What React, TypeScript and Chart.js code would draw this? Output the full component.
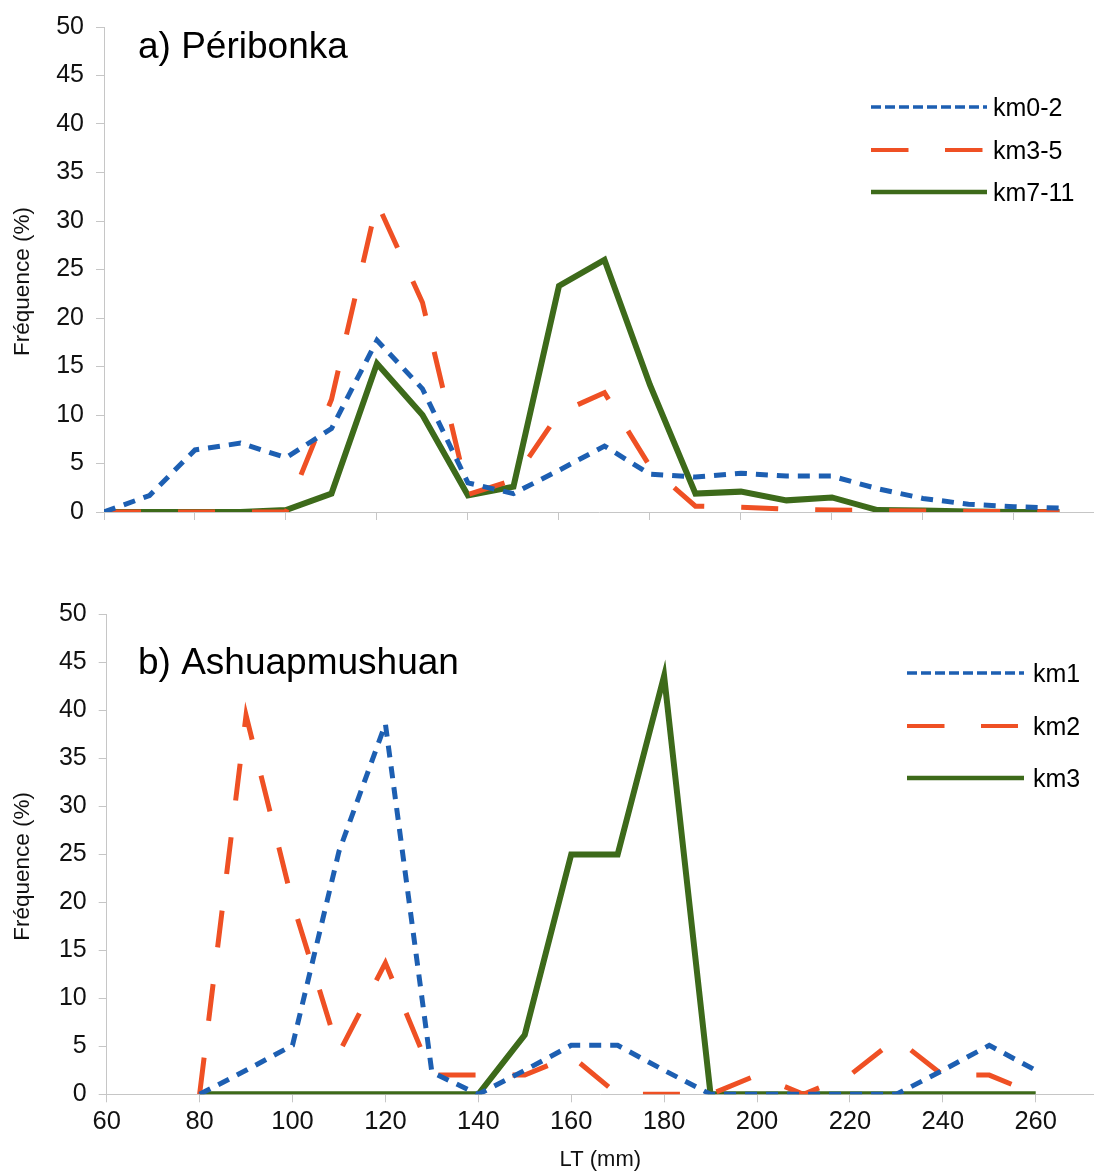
import React, { useEffect, useRef } from "react";
import { Chart, registerables } from "chart.js";

Chart.register(...registerables);

// ---------- data ----------
const topX = [60, 70, 80, 90, 100, 110, 120, 130, 140, 150, 160, 170, 180, 190, 200, 210, 220, 230, 240, 250, 260, 270];
const topKm0_2 = [0, 1.7, 6.4, 7.1, 5.6, 8.6, 17.7, 12.7, 3.0, 1.9, 4.3, 6.8, 3.9, 3.6, 4.0, 3.7, 3.7, 2.4, 1.4, 0.8, 0.55, 0.4];
const topKm3_5 = [0, 0, 0, 0, 0, 11.6, 31.9, 21.6, 1.8, 3.3, 10.2, 12.3, 4.7, 0.6, 0.5, 0.3, 0.2, 0.15, 0.1, 0.05, 0.05, 0];
const topKm7_11 = [0, 0, 0, 0, 0.2, 1.9, 15.3, 10.0, 1.7, 2.6, 23.3, 26.0, 13.1, 1.9, 2.1, 1.2, 1.5, 0.2, 0.15, 0.05, 0, 0];

const botX = [80, 90, 100, 110, 120, 130, 140, 150, 160, 170, 180, 190, 200, 210, 220, 230, 240, 250, 260];
const botKm1 = [0, 2.5, 5.1, 25.3, 38.6, 2.3, 0, 2.5, 5.1, 5.1, 2.5, 0, 0, 0, 0, 0, 2.5, 5.1, 2.5];
const botKm2 = [0, 39.5, 20.0, 4.3, 13.7, 2.0, 2.0, 2.0, 4.0, 0, 0, 0, 2.0, 0, 2.0, 5.8, 2.0, 2.0, 0];
const botKm3 = [0, 0, 0, 0, 0, 0, 0, 6.2, 25.0, 25.0, 43.6, 0, 0, 0, 0, 0, 0, 0, 0];

const topSeriesNames = ["km0-2", "km3-5", "km7-11"];
const botSeriesNames = ["km1", "km2", "km3"];
const topPanelTitle = "a) Péribonka";
const botPanelTitle = "b) Ashuapmushuan";
const yAxisTitle = "Fréquence (%)";
const xAxisTitle = "LT (mm)";
const yMin = 0;
const yMax = 50;
const yStep = 5;
const xMin = 60;
const xStep = 20;

// ---------- styles ----------
const FONT = '"Liberation Sans", Arial, Helvetica, sans-serif';
const BLUE = "#1d5fb2";
const RED = "#ef5024";
const GREEN = "#3d6a1a";
const AXIS = "#c6c6c6";
const seriesColors = [BLUE, RED, GREEN];
const seriesDash = [[12, 9], [37, 37], []];
const seriesWidth = [5, 5, 6];
const legendDash = [[10, 4], [37.5, 36.5], []];
const legendWidth = [3.5, 4, 4.5];

type PanelCfg = {
  title: string;
  titleX: number;
  titleY: number;
  yTitleX: number;
  yTitleDy: number;
  xTitle?: string;
  xTitleY?: number;
  legendX0: number;
  legendX1: number[];
  legendY: number[];
  legendTextX: number;
};

function makeAnnotPlugin(cfg: PanelCfg) {
  return {
    id: "annot",
    afterDraw(chart: any) {
      const ctx: CanvasRenderingContext2D = chart.ctx;
      const ca = chart.chartArea;
      ctx.save();
      ctx.fillStyle = "#000";
      // panel title
      ctx.font = `37px ${FONT}`;
      ctx.textAlign = "left";
      ctx.textBaseline = "alphabetic";
      ctx.fillText(cfg.title, cfg.titleX, cfg.titleY);
      // y title
      ctx.save();
      ctx.translate(cfg.yTitleX, (ca.top + ca.bottom) / 2 + cfg.yTitleDy);
      ctx.rotate(-Math.PI / 2);
      ctx.font = `22.5px ${FONT}`;
      ctx.textAlign = "center";
      ctx.textBaseline = "middle";
      ctx.fillStyle = "#111";
      ctx.fillText(yAxisTitle, 0, 0);
      ctx.restore();
      // x title
      if (cfg.xTitle) {
        ctx.font = `22px ${FONT}`;
        ctx.textAlign = "center";
        ctx.textBaseline = "middle";
        ctx.fillStyle = "#111";
        ctx.fillText(cfg.xTitle, (ca.left + ca.right) / 2, cfg.xTitleY || 0);
      }
      // legend
      chart.data.datasets.forEach((ds: any, i: number) => {
        const y = cfg.legendY[i];
        ctx.beginPath();
        ctx.strokeStyle = ds.borderColor;
        ctx.lineWidth = legendWidth[i];
        ctx.lineCap = "butt";
        ctx.setLineDash(legendDash[i]);
        ctx.moveTo(cfg.legendX0, y);
        ctx.lineTo(cfg.legendX1[i], y);
        ctx.stroke();
        ctx.setLineDash([]);
        ctx.font = `25px ${FONT}`;
        ctx.textAlign = "left";
        ctx.textBaseline = "middle";
        ctx.fillStyle = "#000";
        ctx.fillText(ds.label, cfg.legendTextX, y + 2);
      });
      ctx.restore();
    },
  };
}

function buildDatasets(xs: number[], series: number[][], names: string[]) {
  return series.map((vals, i) => ({
    label: names[i],
    data: xs.map((x, j) => ({ x, y: vals[j] })),
    borderColor: seriesColors[i],
    backgroundColor: seriesColors[i],
    borderWidth: seriesWidth[i],
    borderDash: seriesDash[i],
    borderCapStyle: "butt",
    borderJoinStyle: "miter",
    pointRadius: 0,
    pointHoverRadius: 0,
    fill: false,
    tension: 0,
  }));
}

function makeOptions(xMax: number, yAxisWidth: number, xAxisHeight: number, padTop: number, showXLabels: boolean) {
  return {
    responsive: false,
    animation: false,
    events: [],
    layout: { padding: { top: padTop, right: 0, bottom: 0, left: 0 } },
    plugins: {
      legend: { display: false },
      title: { display: false },
      tooltip: { enabled: false },
    },
    scales: {
      x: {
        type: "linear",
        min: xMin,
        max: xMax,
        afterFit: (s: any) => {
          s.height = xAxisHeight;
        },
        ticks: {
          stepSize: xStep,
          includeBounds: false,
          display: showXLabels,
          padding: 4,
          color: "#111",
          font: { family: FONT, size: 25.5 },
          maxRotation: 0,
          autoSkip: false,
        },
        grid: { drawOnChartArea: false, drawTicks: true, tickLength: 8, color: AXIS, lineWidth: 1 },
        border: { display: true, color: AXIS, width: 1 },
      },
      y: {
        type: "linear",
        min: yMin,
        max: yMax,
        afterFit: (s: any) => {
          s.width = yAxisWidth;
        },
        ticks: {
          stepSize: yStep,
          padding: 12,
          color: "#111",
          font: { family: FONT, size: 25 },
        },
        grid: { drawOnChartArea: false, drawTicks: true, tickLength: 8, color: AXIS, lineWidth: 1 },
        border: { display: true, color: AXIS, width: 1 },
      },
    },
  };
}

function Panel(props: {
  top: number;
  height: number;
  xs: number[];
  series: number[][];
  names: string[];
  xMax: number;
  yAxisWidth: number;
  xAxisHeight: number;
  padTop: number;
  showXLabels: boolean;
  cfg: PanelCfg;
}) {
  const ref = useRef<HTMLCanvasElement | null>(null);
  useEffect(() => {
    if (!ref.current) return;
    const chart = new Chart(ref.current, {
      type: "line",
      data: { datasets: buildDatasets(props.xs, props.series, props.names) as any },
      options: makeOptions(props.xMax, props.yAxisWidth, props.xAxisHeight, props.padTop, props.showXLabels) as any,
      plugins: [makeAnnotPlugin(props.cfg) as any],
    });
    return () => chart.destroy();
  }, []);
  return (
    <canvas
      ref={ref}
      width={1094}
      height={props.height}
      style={{ position: "absolute", left: 0, top: props.top, display: "block" }}
    />
  );
}

export default function App() {
  const topCanvasTop = 0;
  const botCanvasTop = 580;
  return (
    <div style={{ position: "absolute", left: 0, top: 0, width: 1094, height: 1176, background: "#fff", overflow: "hidden" }}>
      <Panel
        top={topCanvasTop}
        height={545}
        xs={topX}
        series={[topKm0_2, topKm3_5, topKm7_11]}
        names={topSeriesNames}
        xMax={277.6}
        yAxisWidth={104}
        xAxisHeight={33}
        padTop={20}
        showXLabels={false}
        cfg={{
          title: topPanelTitle,
          titleX: 138,
          titleY: 58,
          yTitleX: 23,
          yTitleDy: 12,
          legendX0: 871,
          legendX1: [987, 983, 987],
          legendY: [107, 150, 192],
          legendTextX: 993,
        }}
      />
      <Panel
        top={botCanvasTop}
        height={596}
        xs={botX}
        series={[botKm1, botKm2, botKm3]}
        names={botSeriesNames}
        xMax={272.55}
        yAxisWidth={106.7}
        xAxisHeight={81.7}
        padTop={34.5}
        showXLabels={true}
        cfg={{
          title: botPanelTitle,
          titleX: 138,
          titleY: 674 - botCanvasTop,
          yTitleX: 23,
          yTitleDy: 12,
          xTitle: xAxisTitle,
          xTitleY: 1160 - botCanvasTop,
          legendX0: 907,
          legendX1: [1024, 1018, 1024],
          legendY: [673 - botCanvasTop, 726 - botCanvasTop, 778 - botCanvasTop],
          legendTextX: 1033,
        }}
      />
    </div>
  );
}
